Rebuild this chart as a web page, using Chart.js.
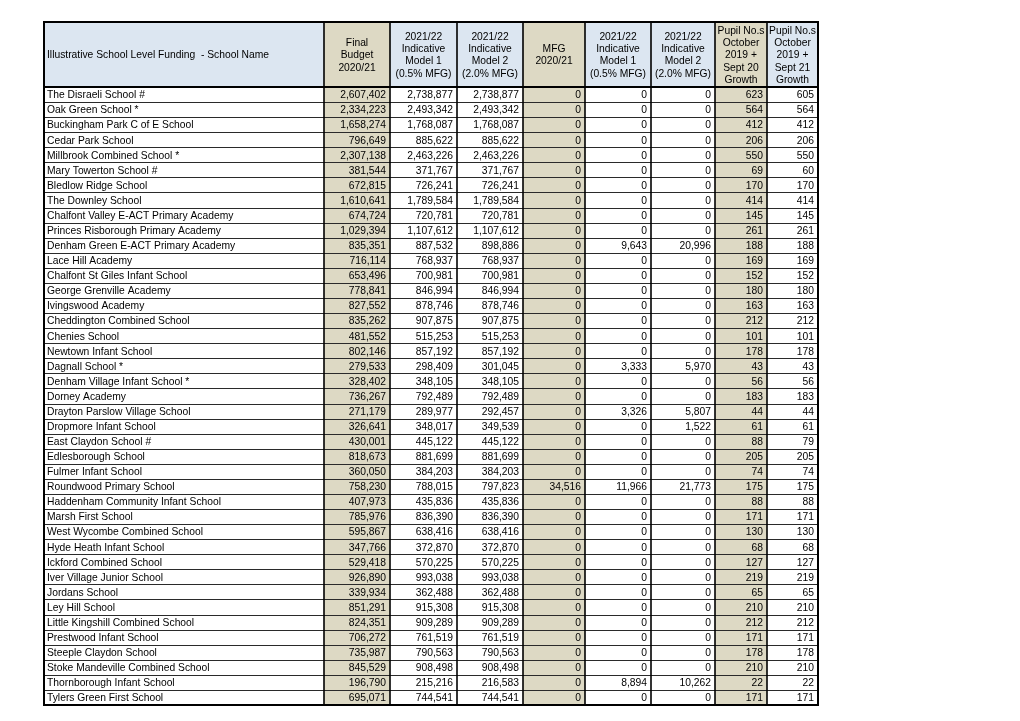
<!DOCTYPE html>
<html>
<head>
<meta charset="utf-8">
<script src="https://cdn.jsdelivr.net/npm/chart.js@4"></script>
<style>
  body { margin: 0; background: #fff; }
  #wrap { width: 1020px; height: 721px; }
</style>
</head>
<body>
<div id="wrap"><canvas id="fundingTable" width="1020" height="721"></canvas></div>
<script>
// column headings (one entry per line)
const headers = [
  ['Illustrative School Level Funding  - School Name'],
  ['Final', 'Budget', '2020/21'],
  ['2021/22', 'Indicative', 'Model 1', '(0.5% MFG)'],
  ['2021/22', 'Indicative', 'Model 2', '(2.0% MFG)'],
  ['MFG', '2020/21'],
  ['2021/22', 'Indicative', 'Model 1', '(0.5% MFG)'],
  ['2021/22', 'Indicative', 'Model 2', '(2.0% MFG)'],
  ['Pupil No.s', 'October', '2019 +', 'Sept 20', 'Growth'],
  ['Pupil No.s', 'October', '2019 +', 'Sept 21', 'Growth']
];

const schoolNames = [
  'The Disraeli School #', 'Oak Green School *', 'Buckingham Park C of E School', 'Cedar Park School',
  'Millbrook Combined School *', 'Mary Towerton School #', 'Bledlow Ridge School', 'The Downley School',
  'Chalfont Valley E-ACT Primary Academy', 'Princes Risborough Primary Academy', 'Denham Green E-ACT Primary Academy',
  'Lace Hill Academy', 'Chalfont St Giles Infant School', 'George Grenville Academy', 'Ivingswood Academy',
  'Cheddington Combined School', 'Chenies School', 'Newtown Infant School', 'Dagnall School *',
  'Denham Village Infant School *', 'Dorney Academy', 'Drayton Parslow Village School', 'Dropmore Infant School',
  'East Claydon School #', 'Edlesborough School', 'Fulmer Infant School', 'Roundwood Primary School',
  'Haddenham Community Infant School', 'Marsh First School', 'West Wycombe Combined School', 'Hyde Heath Infant School',
  'Ickford Combined School', 'Iver Village Junior School', 'Jordans School', 'Ley Hill School',
  'Little Kingshill Combined School', 'Prestwood Infant School', 'Steeple Claydon School',
  'Stoke Mandeville Combined School', 'Thornborough Infant School', 'Tylers Green First School'
];

const finalBudget = [2607402, 2334223, 1658274, 796649, 2307138, 381544, 672815, 1610641, 674724, 1029394, 835351,
  716114, 653496, 778841, 827552, 835262, 481552, 802146, 279533, 328402, 736267, 271179, 326641, 430001, 818673,
  360050, 758230, 407973, 785976, 595867, 347766, 529418, 926890, 339934, 851291, 824351, 706272, 735987, 845529,
  196790, 695071];

const model1 = [2738877, 2493342, 1768087, 885622, 2463226, 371767, 726241, 1789584, 720781, 1107612, 887532,
  768937, 700981, 846994, 878746, 907875, 515253, 857192, 298409, 348105, 792489, 289977, 348017, 445122, 881699,
  384203, 788015, 435836, 836390, 638416, 372870, 570225, 993038, 362488, 915308, 909289, 761519, 790563, 908498,
  215216, 744541];

const model2 = [2738877, 2493342, 1768087, 885622, 2463226, 371767, 726241, 1789584, 720781, 1107612, 898886,
  768937, 700981, 846994, 878746, 907875, 515253, 857192, 301045, 348105, 792489, 292457, 349539, 445122, 881699,
  384203, 797823, 435836, 836390, 638416, 372870, 570225, 993038, 362488, 915308, 909289, 761519, 790563, 908498,
  216583, 744541];

const mfg2021 = [0, 0, 0, 0, 0, 0, 0, 0, 0, 0, 0, 0, 0, 0, 0, 0, 0, 0, 0, 0, 0, 0, 0, 0, 0, 0, 34516,
  0, 0, 0, 0, 0, 0, 0, 0, 0, 0, 0, 0, 0, 0];

const mfgModel1 = [0, 0, 0, 0, 0, 0, 0, 0, 0, 0, 9643, 0, 0, 0, 0, 0, 0, 0, 3333, 0, 0, 3326, 0, 0, 0, 0, 11966,
  0, 0, 0, 0, 0, 0, 0, 0, 0, 0, 0, 0, 8894, 0];

const mfgModel2 = [0, 0, 0, 0, 0, 0, 0, 0, 0, 0, 20996, 0, 0, 0, 0, 0, 0, 0, 5970, 0, 0, 5807, 1522, 0, 0, 0, 21773,
  0, 0, 0, 0, 0, 0, 0, 0, 0, 0, 0, 0, 10262, 0];

const pupilsSept20 = [623, 564, 412, 206, 550, 69, 170, 414, 145, 261, 188, 169, 152, 180, 163, 212, 101, 178, 43,
  56, 183, 44, 61, 88, 205, 74, 175, 88, 171, 130, 68, 127, 219, 65, 210, 212, 171, 178, 210, 22, 171];

const pupilsSept21 = [605, 564, 412, 206, 550, 60, 170, 414, 145, 261, 188, 169, 152, 180, 163, 212, 101, 178, 43,
  56, 183, 44, 61, 79, 205, 74, 175, 88, 171, 130, 68, 127, 219, 65, 210, 212, 171, 178, 210, 22, 171];

const columns = [schoolNames, finalBudget, model1, model2, mfg2021, mfgModel1, mfgModel2, pupilsSept20, pupilsSept21];

// layout
const colWidths = [280, 66, 67, 66, 62, 66, 64, 52, 51];
const beigeCols = [1, 4, 7];
const headerRows = 4.31;
const BLUE = '#dce6f1';
const BEIGE = '#ddd9c4';
const FONT = '10.3px "Liberation Sans", Arial, sans-serif';

const colEdges = [0];
colWidths.forEach(w => colEdges.push(colEdges[colEdges.length - 1] + w));
const totalWidth = colEdges[colEdges.length - 1];
const totalRows = headerRows + schoolNames.length;

const fmt = v => v.toLocaleString('en-GB');

const tablePlugin = {
  id: 'tablePlugin',
  afterDraw(chart) {
    const ctx = chart.ctx;
    const x = chart.scales.x;
    const y = chart.scales.y;
    const px = v => x.getPixelForValue(v);
    const py = v => y.getPixelForValue(v);
    const left = px(0), right = px(totalWidth);
    const top = py(0), headBottom = py(headerRows), bottom = py(totalRows);

    ctx.save();

    // header backgrounds
    for (let c = 0; c < colWidths.length; c++) {
      ctx.fillStyle = beigeCols.includes(c) ? BEIGE : BLUE;
      ctx.fillRect(px(colEdges[c]), top, px(colEdges[c + 1]) - px(colEdges[c]), headBottom - top);
    }
    // beige body columns
    beigeCols.forEach(c => {
      ctx.fillStyle = BEIGE;
      ctx.fillRect(px(colEdges[c]), headBottom, px(colEdges[c + 1]) - px(colEdges[c]), bottom - headBottom);
    });

    // row lines
    ctx.strokeStyle = '#2a2a2a';
    ctx.lineWidth = 1;
    for (let r = 1; r < schoolNames.length; r++) {
      const yy = Math.round(py(headerRows + r)) + 0.5;
      ctx.beginPath();
      ctx.moveTo(left, yy);
      ctx.lineTo(right, yy);
      ctx.stroke();
    }

    // vertical lines
    ctx.strokeStyle = '#000';
    ctx.lineWidth = 1.6;
    for (let c = 1; c < colWidths.length; c++) {
      const xx = px(colEdges[c]);
      ctx.beginPath();
      ctx.moveTo(xx, top);
      ctx.lineTo(xx, bottom);
      ctx.stroke();
    }

    // header bottom + outer border
    ctx.lineWidth = 2;
    ctx.beginPath();
    ctx.moveTo(left, headBottom);
    ctx.lineTo(right, headBottom);
    ctx.stroke();
    ctx.strokeRect(left, top, right - left, bottom - top);

    // header text
    ctx.fillStyle = '#000';
    ctx.font = FONT;
    ctx.textBaseline = 'middle';
    const lineH = 12.3;
    const headMid = (top + headBottom) / 2;
    headers.forEach((lines, c) => {
      const start = headMid - (lines.length - 1) * lineH / 2;
      if (c === 0) {
        ctx.textAlign = 'left';
        ctx.fillText(lines[0], px(colEdges[0]) + 3, start + 1);
        return;
      }
      ctx.textAlign = 'center';
      const cx = (px(colEdges[c]) + px(colEdges[c + 1])) / 2;
      lines.forEach((t, i) => ctx.fillText(t, cx, start + i * lineH + 1));
    });

    // body text
    for (let r = 0; r < schoolNames.length; r++) {
      const cy = py(headerRows + r + 0.5) + 1;
      columns.forEach((col, c) => {
        if (c === 0) {
          ctx.textAlign = 'left';
          ctx.fillText(col[r], px(colEdges[0]) + 3, cy);
        } else {
          ctx.textAlign = 'right';
          ctx.fillText(fmt(col[r]), px(colEdges[c + 1]) - 4, cy);
        }
      });
    }

    ctx.restore();
  }
};

new Chart(document.getElementById('fundingTable').getContext('2d'), {
  type: 'scatter',
  data: { datasets: [] },
  options: {
    responsive: false,
    animation: false,
    layout: { padding: { left: 44, right: 202, top: 22, bottom: 16 } },
    plugins: { legend: { display: false }, tooltip: { enabled: false } },
    scales: {
      x: { type: 'linear', min: 0, max: totalWidth, display: false },
      y: { type: 'linear', min: 0, max: totalRows, reverse: true, display: false }
    }
  },
  plugins: [tablePlugin]
});
</script>
</body>
</html>
